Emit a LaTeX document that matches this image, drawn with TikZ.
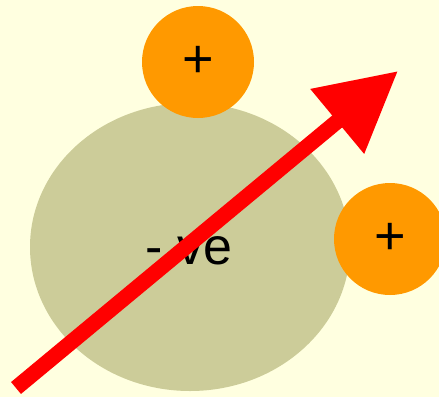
\documentclass[tikz,border=0pt]{standalone}
\usepackage{fontspec}
\setmainfont{Liberation Sans}
\usetikzlibrary{arrows.meta,shapes.geometric}
\definecolor{paleyellow}{RGB}{255,255,224}
\definecolor{olivegray}{RGB}{204,204,153}
\definecolor{chargeorange}{RGB}{255,153,0}
\tikzset{
  negblob/.style={ellipse, fill=olivegray, minimum width=320pt, minimum height=288pt, inner sep=0pt},
  bigtext/.style={font=\fontsize{52}{54}\selectfont},
  poscharge/.style={circle, fill=chargeorange, minimum size=112pt, inner sep=0pt, font=\fontsize{54}{56}\selectfont},
  fieldarrow/.style={-{Triangle[length=79pt,width=80pt]}, line width=15.5pt, draw=red}
}

\begin{document}
\begin{tikzpicture}[x=1pt, y=-1pt]
\fill[paleyellow] (0,0) rectangle (439,397);
\useasboundingbox (0,0) rectangle (439,397);
\node[negblob] (neg) at (190,247) {};
\node[bigtext] at (189,251) (negtext) {- ve};
\node[poscharge] (posa) at (198,62) {+};
\node[poscharge] (posb) at (390,239) {+};
\coordinate (start) at (16,388);
\coordinate (tip) at (398,71);
\draw[fieldarrow] (start) -- (tip);
\end{tikzpicture}
\end{document}
